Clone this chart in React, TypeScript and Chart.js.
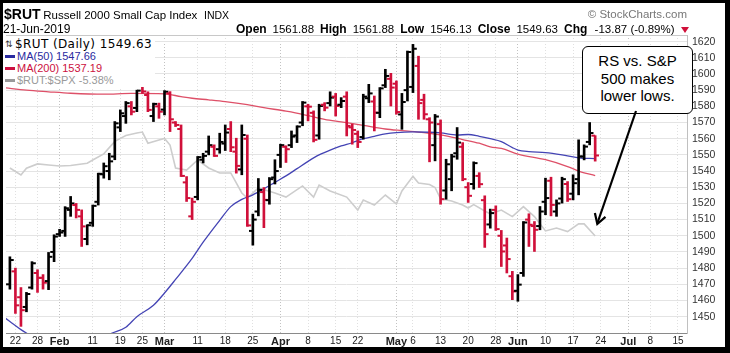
import React, { useEffect, useRef } from 'react';
import { Chart, registerables } from 'chart.js';

Chart.register(...registerables);

// Trading-day index: 0 = 22-Jan-2019 (first day shown is index -1 = 18-Jan)
const FIRST_DAY = -1;

const opens = [1470, 1478, 1462, 1456, 1468, 1477, 1474, 1472, 1490, 1501, 1503, 1516, 1519, 1512, 1498, 1508, 1521, 1538, 1540, 1549, 1567, 1574, 1580, 1579, 1596, 1587, 1574, 1580, 1578, 1588, 1570, 1566, 1533, 1512, 1524, 1547, 1552, 1555, 1553.5, 1557, 1566, 1552, 1541, 1560, 1503, 1515, 1527, 1522, 1536, 1550, 1555, 1556, 1562, 1570, 1580, 1576, 1562, 1581, 1582, 1586, 1581, 1586, 1567, 1563, 1561, 1585, 1583, 1576, 1593, 1597, 1594, 1575, 1590, 1592, 1605, 1584, 1572, 1556, 1569, 1528, 1535, 1551, 1555, 1530, 1532, 1537, 1522, 1507, 1516, 1500, 1494, 1475, 1466, 1477, 1510, 1506, 1506, 1521, 1534, 1515, 1523, 1532, 1526, 1535, 1549, 1558, 1561.88];
const highs = [1487, 1480, 1468, 1465, 1484, 1479, 1476, 1489.7, 1500.6, 1504, 1518, 1524.3, 1520, 1516, 1506.8, 1519, 1538.7, 1545, 1551, 1570.6, 1577.8, 1583, 1583, 1590, 1602.5, 1589, 1582, 1582, 1589.7, 1589.1, 1570.6, 1568.5, 1536.6, 1523.3, 1549, 1551, 1561.7, 1556.2, 1563.4, 1568.5, 1570.6, 1560.3, 1568.5, 1562.3, 1513.4, 1535.4, 1529.8, 1536, 1547, 1556.6, 1555.6, 1564.8, 1568, 1583, 1581.3, 1577.2, 1581.3, 1582.3, 1589, 1588, 1585.4, 1589, 1569, 1564.8, 1587.5, 1593.6, 1586.4, 1591.6, 1602.9, 1600.4, 1595.7, 1588, 1614.2, 1618.3, 1611, 1587.5, 1573, 1575, 1571.6, 1547.3, 1550.4, 1566.9, 1557.6, 1532.9, 1545.7, 1539, 1524.7, 1516.5, 1518.5, 1503.3, 1498.6, 1478, 1476, 1508.8, 1513.6, 1508.8, 1518.1, 1535.6, 1536.2, 1522.2, 1536.2, 1533.5, 1537.7, 1559.3, 1556.2, 1570, 1561.88];
const lows = [1467, 1452, 1444, 1453, 1467, 1465, 1467, 1466.7, 1484, 1499.6, 1499.6, 1512, 1511, 1493.4, 1494.4, 1505.8, 1519, 1535.6, 1534.6, 1547, 1564.4, 1569.5, 1574.7, 1576.7, 1588, 1576.7, 1570.6, 1572.6, 1574.7, 1564.4, 1567.5, 1536.6, 1521.2, 1510, 1522.2, 1545, 1550, 1549, 1551, 1552.7, 1552, 1538.7, 1537.7, 1505.8, 1494.2, 1512.3, 1505, 1519.5, 1532, 1542.2, 1545.3, 1554.5, 1557.6, 1568, 1571, 1558, 1559.7, 1577.2, 1580.2, 1574, 1579.2, 1561.7, 1556.6, 1554.5, 1559.7, 1582.3, 1564.8, 1573, 1591.6, 1580.2, 1575.1, 1565.8, 1583.3, 1588.5, 1572, 1572, 1545.7, 1546.3, 1519.5, 1522.6, 1527.8, 1547.3, 1534, 1520.6, 1528.8, 1529.8, 1492.8, 1504.7, 1503.3, 1481, 1477, 1460.5, 1459.5, 1474.9, 1493.4, 1490.3, 1503.7, 1513, 1512.3, 1512, 1520.2, 1521.2, 1522.2, 1525.3, 1546.9, 1556.2, 1546.13];
const closes = [1485, 1457, 1454, 1464, 1483, 1474, 1471, 1487, 1499.5, 1502, 1517, 1520, 1516, 1505.8, 1506.5, 1518.5, 1538.3, 1543, 1546, 1569.5, 1575.7, 1582, 1576.7, 1589.7, 1589.2, 1577.8, 1581.5, 1576.7, 1589, 1572, 1568.5, 1537, 1523.3, 1521, 1548.6, 1549.4, 1556, 1549.4, 1558, 1563.8, 1554.7, 1543.2, 1562.3, 1506.4, 1510, 1528.4, 1522.2, 1535, 1540, 1556, 1553.5, 1561.3, 1567.5, 1582.3, 1579.8, 1559.3, 1580.2, 1579.2, 1585.4, 1580.2, 1583.3, 1567.9, 1565.4, 1558, 1586, 1588, 1576.1, 1591.1, 1598.8, 1591.6, 1576.5, 1582.7, 1613.6, 1615.6, 1582, 1575.1, 1570, 1573.7, 1522.6, 1544.2, 1549, 1557.6, 1535, 1524.7, 1544.9, 1531.9, 1501, 1514, 1504.1, 1490.3, 1485.6, 1465.6, 1469.8, 1508.2, 1506.8, 1503.7, 1515, 1523.3, 1519.1, 1520, 1535, 1522.6, 1532.5, 1549, 1555.1, 1563.5, 1549.63];

// Moving averages (MA50 dips below the visible range early on)
const ma50Days = [-2, -1, 1, 4, 8, 12, 15, 17, 20, 22, 25, 27, 29, 32, 34, 37, 39, 41, 43, 45, 47, 49, 51, 53, 55, 57, 59, 61, 63, 65, 67, 69, 72, 75, 77, 80, 82, 84, 86, 88, 90, 91, 93, 96, 99, 102, 105];
const ma50Values = [1449.5, 1447, 1442, 1436, 1431, 1430, 1434, 1439, 1443.5, 1450, 1457, 1464.6, 1473, 1486, 1496, 1509.5, 1518, 1522.5, 1525.3, 1529, 1533, 1537, 1541.5, 1546, 1550, 1553, 1555.5, 1557.5, 1560, 1561.5, 1563, 1563.8, 1564.2, 1564, 1563.6, 1562.3, 1562.6, 1561.5, 1560, 1558.2, 1554.5, 1553, 1552, 1551.4, 1550, 1548.2, 1547.66];
const ma200Days = [-2, 2, 6, 10, 16, 21, 27, 30, 32, 35, 38, 42, 45, 49, 52, 56, 59, 63, 67, 70, 74, 77, 81, 84, 86, 88, 91, 96, 100, 102, 105];
const ma200Values = [1591.5, 1590, 1589, 1588.1, 1587.5, 1588, 1587.7, 1586, 1585, 1584, 1582.9, 1581, 1579.2, 1577, 1575.1, 1572, 1570.4, 1568.3, 1566, 1565, 1563.8, 1562.4, 1559.5, 1557.2, 1555, 1554, 1550.5, 1547, 1542.8, 1540, 1537.19];

// $RUT:$SPX ratio
const ratioDays = [-1, 1, 2, 4, 6, 8, 10, 13, 14, 16, 18, 20, 22, 23, 24, 26, 27, 28, 29, 31, 33, 35, 37, 39, 40, 41, 42, 44, 47, 49, 52, 54, 55, 57, 60, 62, 63, 65, 67, 69, 70, 72, 73, 75, 76, 77, 79, 81, 82, 83, 85, 86, 88, 90, 92, 94, 96, 98, 100, 102, 103, 105];
const ratioValues = [0.5551, 0.552, 0.555, 0.5569, 0.5564, 0.556, 0.5562, 0.5572, 0.5586, 0.5613, 0.5668, 0.5694, 0.5705, 0.5709, 0.566, 0.5674, 0.5681, 0.5652, 0.5551, 0.5542, 0.5586, 0.5551, 0.5529, 0.5529, 0.5485, 0.5441, 0.5419, 0.5463, 0.5441, 0.5423, 0.5472, 0.5423, 0.5476, 0.545, 0.5423, 0.5366, 0.541, 0.5388, 0.5432, 0.5393, 0.545, 0.5514, 0.5485, 0.5478, 0.5465, 0.5415, 0.5406, 0.5388, 0.5375, 0.539, 0.5362, 0.5349, 0.5366, 0.5337, 0.5381, 0.5337, 0.5274, 0.5287, 0.5271, 0.5305, 0.5305, 0.5252];

const xTickDays = [0, 4, 8, 14, 19, 23, 27, 33, 38, 43, 48, 53, 58, 62, 69, 72, 77, 82, 87, 91, 96, 101, 106, 111, 115, 120];
const xTickLabels = ['22', '28', 'Feb', '11', '19', '25', 'Mar', '11', '18', '25', 'Apr', '8', '15', '22', 'May', '6', '13', '20', '28', 'Jun', '10', '17', '24', 'Jul', '8', '15'];
const yTickValues = [1450, 1460, 1470, 1480, 1490, 1500, 1510, 1520, 1530, 1540, 1550, 1560, 1570, 1580, 1590, 1600, 1610, 1620];

const X_MIN = -1.706;
const X_MAX = 121.63;
const Y_MIN = 1439.9;
const Y_MAX = 1624.1;
const R_MIN = 0.4825;
const R_MAX = 0.6136;

const UP = '#000000';
const DOWN = '#d0103a';
const FONT = '"Liberation Sans", Arial, Helvetica, sans-serif';

const isMonth = (label: string) => isNaN(Number(label));

function Txt(props: { x: number; base: number; size: number; bold?: boolean; color?: string; family?: string; ls?: number; children: React.ReactNode }) {
  const { x, base, size, bold, color, family, ls, children } = props;
  return (
    <div
      style={{
        position: 'absolute',
        left: x,
        top: base - 0.8465 * size,
        fontSize: size,
        lineHeight: `${size}px`,
        fontWeight: bold ? 700 : 400,
        color: color || '#000',
        fontFamily: family || FONT,
        whiteSpace: 'nowrap',
        letterSpacing: ls ? `${ls}px` : undefined,
      }}
    >
      {children}
    </div>
  );
}

export default function App() {
  const ref = useRef<HTMLCanvasElement>(null);

  useEffect(() => {
    const days = closes.map((_, k) => k + FIRST_DAY);
    const colors = closes.map((c, k) => (k === 0 || c >= closes[k - 1] ? UP : DOWN));
    Chart.defaults.font.family = FONT;

    const chart = new Chart(ref.current as HTMLCanvasElement, {
      type: 'bar',
      data: {
        datasets: [
          {
            type: 'bar',
            data: days.map((d, k) => ({ x: d, y: [lows[k], highs[k]] })) as any,
            backgroundColor: colors,
            borderWidth: 0,
            barThickness: 2,
            grouped: false,
            order: 0,
          } as any,
          {
            type: 'scatter',
            data: days.map((d, k) => ({ x: d - 0.35, y: opens[k] })),
            pointStyle: 'line',
            pointRadius: 1.9,
            pointBorderWidth: 2,
            pointBorderColor: colors,
            pointBackgroundColor: colors,
            order: 0,
          } as any,
          {
            type: 'scatter',
            data: days.map((d, k) => ({ x: d + 0.35, y: closes[k] })),
            pointStyle: 'line',
            pointRadius: 1.9,
            pointBorderWidth: 2,
            pointBorderColor: colors,
            pointBackgroundColor: colors,
            order: 0,
          } as any,
          {
            type: 'line',
            data: ma50Days.map((d, k) => ({ x: d, y: ma50Values[k] })),
            borderColor: '#4444b4',
            borderWidth: 1.3,
            pointRadius: 0,
            cubicInterpolationMode: 'monotone',
            order: 2,
          } as any,
          {
            type: 'line',
            data: ma200Days.map((d, k) => ({ x: d, y: ma200Values[k] })),
            borderColor: '#de5068',
            borderWidth: 1.3,
            pointRadius: 0,
            cubicInterpolationMode: 'monotone',
            order: 2,
          } as any,
          {
            type: 'line',
            yAxisID: 'y2',
            data: ratioDays.map((d, k) => ({ x: d, y: ratioValues[k] })),
            borderColor: '#cdcdcd',
            borderWidth: 1.6,
            pointRadius: 0,
            tension: 0,
            order: 3,
          } as any,
        ],
      },
      options: {
        responsive: false,
        maintainAspectRatio: false,
        animation: false,
        devicePixelRatio: 1,
        events: [],
        layout: { padding: { left: 0, top: 35, right: 0, bottom: 0 } },
        plugins: { legend: { display: false }, tooltip: { enabled: false }, title: { display: false } },
        scales: {
          x: {
            type: 'linear',
            min: X_MIN,
            max: X_MAX,
            offset: false,
            afterBuildTicks: (s: any) => {
              s.ticks = xTickDays.map((v) => ({ value: v }));
            },
            afterFit: (s: any) => {
              s.height = 20;
            },
            grid: {
              offset: false,
              drawTicks: false,
              lineWidth: 1,
              color: (ctx: any) => (isMonth(xTickLabels[ctx.index] || '0') ? '#c2c2c2' : '#e0e0e0'),
            },
            border: { display: true, color: '#8a8a8a', dash: [1, 2] },
            ticks: {
              autoSkip: false,
              maxRotation: 0,
              minRotation: 0,
              padding: 2,
              color: '#222',
              font: (ctx: any) => {
                const lab = xTickLabels[ctx.index] || '';
                return isMonth(lab) ? { size: 11, weight: 'bold', family: FONT } : { size: 10, weight: 'normal', family: FONT };
              },
              callback: (_v: any, i: number) => xTickLabels[i],
            },
          } as any,
          y: {
            type: 'linear',
            position: 'right',
            min: Y_MIN,
            max: Y_MAX,
            afterBuildTicks: (s: any) => {
              s.ticks = [...yTickValues, Y_MAX].map((v) => ({ value: v }));
            },
            afterFit: (s: any) => {
              s.width = 43;
            },
            grid: {
              drawTicks: false,
              lineWidth: 1,
              color: (ctx: any) => (ctx.tick && ctx.tick.value === Y_MAX ? '#c8c8c8' : '#e4e4e4'),
            },
            border: { display: true, color: '#c0c0c0' },
            ticks: {
              padding: 5,
              color: '#333',
              font: { size: 10.5, family: FONT },
              callback: (v: any) => (v === Y_MAX ? '' : String(v)),
            },
          } as any,
          y2: {
            type: 'linear',
            display: false,
            min: R_MIN,
            max: R_MAX,
          } as any,
        },
      },
    } as any);
    return () => chart.destroy();
  }, []);

  return (
    <div style={{ position: 'fixed', left: 0, top: 0, width: 730, height: 353, background: '#fff', overflow: 'hidden', fontFamily: FONT }}>
      <canvas ref={ref} width={730} height={353} style={{ position: 'absolute', left: 0, top: 0, width: 730, height: 353 }} />

      {/* Header */}
      <Txt x={4} base={19.3} size={14} bold>$RUT</Txt>
      <Txt x={43.3} base={19.3} size={11.5}>Russell 2000 Small Cap Index</Txt>
      <Txt x={204} base={19.3} size={10.5}>INDX</Txt>
      <div style={{ position: 'absolute', left: 540, width: 147, top: 19 - 0.8465 * 11.5, fontSize: 11.5, lineHeight: '11.5px', color: '#777', textAlign: 'right', whiteSpace: 'nowrap' }}>© StockCharts.com</div>
      <Txt x={3} base={33.3} size={12}>21-Jun-2019</Txt>
      <Txt x={236} base={33.3} size={12} bold>Open</Txt>
      <Txt x={272.5} base={33.3} size={11.5}>1561.88</Txt>
      <Txt x={320} base={33.3} size={12} bold>High</Txt>
      <Txt x={352.7} base={33.3} size={11.5}>1561.88</Txt>
      <Txt x={400.2} base={33.3} size={12} bold>Low</Txt>
      <Txt x={430.2} base={33.3} size={11.5}>1546.13</Txt>
      <Txt x={477.7} base={33.3} size={12} bold>Close</Txt>
      <Txt x={516.4} base={33.3} size={11.5}>1549.63</Txt>
      <Txt x={564} base={33.3} size={12} bold>Chg</Txt>
      <Txt x={594.6} base={33.3} size={11.5}>-13.87 (-0.89%)</Txt>
      <div style={{ position: 'absolute', left: 681, top: 27, width: 0, height: 0, borderLeft: '4px solid transparent', borderRight: '4px solid transparent', borderTop: '6px solid ' + DOWN }} />

      {/* In-chart legend */}
      <div style={{ position: 'absolute', left: 3, top: 36, width: 152, height: 51, background: '#fff' }} />
      <Txt x={5} base={47.5} size={9} family='"DejaVu Sans", sans-serif' color="#333">⇅</Txt>
      <Txt x={15} base={48.3} size={12} family='"DejaVu Sans", sans-serif' ls={0.4}>$RUT (Daily) 1549.63</Txt>
      <div style={{ position: 'absolute', left: 5, top: 55, width: 10, height: 2.5, background: '#2a2aa0' }} />
      <Txt x={17} base={60} size={11} color="#2a2aa0">MA(50) 1547.66</Txt>
      <div style={{ position: 'absolute', left: 5, top: 67, width: 10, height: 2.5, background: '#cc1040' }} />
      <Txt x={17} base={72} size={11} color="#cc1040">MA(200) 1537.19</Txt>
      <div style={{ position: 'absolute', left: 5, top: 79, width: 10, height: 2.5, background: '#999' }} />
      <Txt x={17} base={84} size={11} color="#999">$RUT:$SPX -5.38%</Txt>

      {/* Annotation */}
      <div
        style={{
          position: 'absolute',
          left: 582,
          top: 46,
          width: 109,
          height: 62,
          border: '1px solid #000',
          borderRadius: 6,
          background: '#fff',
          textAlign: 'center',
          fontSize: 15,
          lineHeight: '17.5px',
          paddingTop: 4,
          boxSizing: 'content-box',
          color: '#000',
        }}
      >
        <div style={{ marginTop: 1 }}>RS vs. S&amp;P</div>
        <div>500 makes</div>
        <div>lower lows.</div>
      </div>
      <svg width={730} height={353} style={{ position: 'absolute', left: 0, top: 0, pointerEvents: 'none' }}>
        <line x1={636} y1={111} x2={597.3} y2={223.5} stroke="#000" strokeWidth={2.2} />
        <polyline points="594.9,213 597.3,224 605.5,216.8" fill="none" stroke="#000" strokeWidth={2.2} />
      </svg>

      {/* Frame */}
      <div style={{ position: 'absolute', left: 0, top: 0, width: 730, height: 3, background: '#000' }} />
      <div style={{ position: 'absolute', left: 0, top: 0, width: 3, height: 353, background: '#000' }} />
      <div style={{ position: 'absolute', left: 725, top: 0, width: 5, height: 353, background: '#000' }} />
      <div style={{ position: 'absolute', left: 0, top: 347, width: 730, height: 6, background: '#000' }} />
    </div>
  );
}
